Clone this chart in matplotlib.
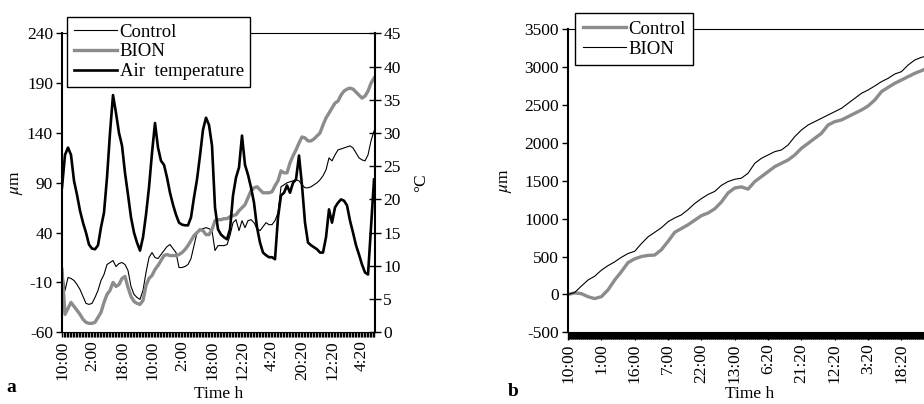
import numpy as np
import matplotlib
matplotlib.use('Agg')
import matplotlib.pyplot as plt
from matplotlib.ticker import MultipleLocator

plt.rcParams['font.family'] = ['Liberation Serif', 'DejaVu Serif']
plt.rcParams['mathtext.fontset'] = 'stix'
plt.rcParams['axes.unicode_minus'] = False

# Panel a: ten samples per labelled step
labels_a = ['10:00', '2:00', '18:00', '10:00', '2:00', '18:00',
            '12:20', '4:20', '20:20', '12:20', '4:20']
control_a = [3, -18, -5, -6, -8, -12, -17, -24, -31, -32,
             -31, -25, -18, -8, -2, 8, 10, 12, 6, 9,
             10, 8, 2, -14, -22, -25, -27, -18, 0, 15,
             20, 15, 14, 18, 22, 26, 28, 24, 20, 5,
             5, 6, 8, 14, 27, 40, 43, 44, 45, 44,
             42, 22, 27, 27, 27, 28, 37, 50, 53, 42,
             52, 45, 52, 53, 50, 44, 42, 46, 50, 48,
             48, 52, 60, 86, 88, 90, 91, 92, 93, 92,
             88, 85, 85, 86, 88, 90, 93, 97, 103, 115,
             112, 118, 123, 124, 125, 126, 127, 125, 120, 115,
             113, 112, 118, 132, 142]
bion_a = [3, -42, -36, -30, -34, -38, -42, -47, -50, -51,
          -51, -50, -45, -40, -30, -22, -18, -10, -14, -12,
          -6, -4, -15, -24, -29, -31, -32, -28, -13, -6,
          -3, 3, 7, 12, 17, 18, 17, 17, 17, 18,
          20, 23, 27, 32, 37, 40, 43, 42, 38, 38,
          43, 52, 53, 53, 54, 54, 56, 57, 58, 62,
          65, 68, 75, 82, 85, 86, 83, 80, 80, 80,
          81, 87, 92, 102, 100, 100, 110, 117, 123, 130,
          136, 135, 132, 132, 134, 137, 140, 148, 155, 160,
          165, 170, 172, 178, 182, 184, 185, 184, 181, 178,
          175, 177, 182, 190, 195]
air_temp = [21.8, 26.7, 27.8, 26.7, 22.8, 20.7, 18.3, 16.5, 15.0, 13.2,
            12.6, 12.5, 13.1, 15.8, 18.0, 23.3, 30.0, 35.7, 33.0, 30.0,
            28.1, 24.0, 20.7, 17.3, 15.0, 13.5, 12.3, 14.3, 17.7, 21.8,
            27.0, 31.5, 27.8, 25.8, 25.2, 23.3, 21.0, 19.2, 17.7, 16.5,
            16.2, 16.1, 16.1, 17.3, 20.3, 23.0, 26.6, 30.5, 32.3, 31.2,
            28.1, 18.8, 15.5, 14.7, 14.3, 14.0, 15.5, 20.6, 23.3, 24.8,
            29.6, 25.2, 23.7, 21.8, 19.5, 15.8, 13.5, 12.0, 11.6, 11.3,
            11.3, 11.0, 17.3, 20.6, 21.0, 22.1, 21.0, 22.5, 23.0, 26.6,
            22.1, 16.5, 13.5, 13.1, 12.8, 12.5, 12.0, 12.0, 14.3, 18.5,
            16.5, 18.8, 19.5, 20.0, 19.8, 19.1, 16.8, 15.0, 13.1, 11.7,
            10.2, 9.0, 8.7, 15.8, 23.0]

# Panel b: five samples per labelled step
labels_b = ['10:00', '1:00', '16:00', '7:00', '22:00', '13:00',
            '6:20', '21:20', '12:20', '3:20', '18:20']
control_b = [0, 20, 10, -30, -55, -30, 60, 190, 300, 420,
             470, 500, 515, 520, 590, 700, 820, 870, 920, 980,
             1040, 1075, 1130, 1220, 1340, 1405, 1420, 1390, 1490, 1555,
             1621, 1687, 1731, 1775, 1841, 1929, 1995, 2061, 2127, 2237,
             2281, 2303, 2347, 2391, 2435, 2488, 2567, 2677, 2734, 2787,
             2831, 2875, 2919, 2954, 2995]
bion_b = [0, 25, 110, 190, 240, 320, 380, 430, 490, 540,
          570, 670, 760, 820, 880, 960, 1010, 1050, 1120, 1200,
          1265, 1320, 1360, 1440, 1490, 1520, 1535, 1600, 1731, 1797,
          1841, 1885, 1907, 1973, 2083, 2171, 2237, 2281, 2325, 2369,
          2413, 2457, 2523, 2589, 2655, 2699, 2752, 2809, 2853, 2910,
          2941, 3029, 3095, 3130, 3150]

GREY = '#8c8c8c'
FS = 12.5
W, H = 924, 404
fig = plt.figure(figsize=(W / 100, H / 100), dpi=100)


def style_bottom(ax, minor, major_len, minor_len, minor_w):
    ax.xaxis.set_minor_locator(MultipleLocator(minor))
    ax.tick_params(axis='x', which='major', direction='out', length=major_len,
                   width=1.0, labelsize=FS, labelrotation=90, pad=2)
    ax.tick_params(axis='x', which='minor', direction='out', length=minor_len,
                   width=minor_w, color='black')


# ---- panel a ----
ax = fig.add_axes([62 / W, 1 - 332.3 / H, 313 / W, 299 / H])
ax2 = ax.twinx()  # made first, so the x tick setup below is not reset
xa = np.arange(len(control_a))
ax.plot(xa, control_a, color='black', lw=0.8, label='Control')
ax.plot(xa, bion_a, color=GREY, lw=2.4, label='BION')
ax.set_ylim(-60, 240)
ax.set_yticks(np.arange(-60, 241, 50))
ax.set_xlim(0, 104.33)
ax.set_xticks(np.arange(0, 101, 10))
ax.set_xticklabels(labels_a)
style_bottom(ax, 0.5, 3.8, 3.8, 1.0)
ax.tick_params(axis='y', direction='out', length=4.5, width=1, labelsize=FS, pad=2)
ax.set_ylabel(r'$\mu$m', fontsize=FS)
ax.yaxis.set_label_coords(-0.118, 0.5)
ax.set_xlabel('Time h', fontsize=FS)
ax.xaxis.set_label_coords(0.5, -0.18)
ax.spines['right'].set_visible(False)
ax.spines['left'].set_linewidth(1.5)
ax.spines['top'].set_linewidth(0.8)

ax2.plot(xa, air_temp, color='black', lw=1.9, label='Air  temperature')
ax2.set_ylim(0, 45)
ax2.set_yticks(np.arange(0, 46, 5))
ax2.tick_params(axis='y', direction='inout', length=8, width=1, labelsize=FS, pad=2)
ax2.set_ylabel('°C', fontsize=FS)
ax2.yaxis.set_label_coords(1.121, 0.5)
for s in ['left', 'top', 'bottom']:
    ax2.spines[s].set_visible(False)
ax2.spines['right'].set_linewidth(1.5)

h1, l1 = ax.get_legend_handles_labels()
h2, l2 = ax2.get_legend_handles_labels()
leg = ax2.legend(h1 + h2, l1 + l2, loc='upper left',
                 bbox_to_anchor=(67 / W, 1 - 17 / H), bbox_transform=fig.transFigure,
                 borderaxespad=0, fancybox=False, edgecolor='black', framealpha=1,
                 fontsize=13.5, handlelength=2.3, handletextpad=0.15,
                 labelspacing=0.14, borderpad=0.35)
leg.get_frame().set_linewidth(1.0)

# ---- panel b ----
bx = fig.add_axes([568 / W, 1 - 332.3 / H, 373.5 / W, 303 / H])
xb = np.arange(len(control_b))
bx.plot(xb, control_b, color=GREY, lw=2.4, label='Control')
bx.plot(xb, bion_b, color='black', lw=0.8, label='BION')
bx.set_ylim(-500, 3500)
bx.set_yticks(np.arange(-500, 3501, 500))
bx.set_xlim(0, 56)
bx.set_xticks(np.arange(0, 51, 5))
bx.set_xticklabels(labels_b)
style_bottom(bx, 0.1, 6, 5, 0.8)
bx.tick_params(axis='y', direction='out', length=4.5, width=1, labelsize=FS, pad=2)
bx.set_ylabel(r'$\mu$m', fontsize=FS)
bx.yaxis.set_label_coords(-0.145, 0.5)
bx.set_xlabel('Time h', fontsize=FS)
bx.xaxis.set_label_coords((750 - 568) / 373.5, -0.177)
bx.spines['right'].set_visible(False)
bx.spines['left'].set_linewidth(1.5)
bx.spines['top'].set_linewidth(0.8)
legb = bx.legend(loc='upper left', bbox_to_anchor=(575 / W, 1 - 13 / H),
                 bbox_transform=fig.transFigure, borderaxespad=0, fancybox=False,
                 edgecolor='black', framealpha=1, fontsize=13.5, handlelength=2.3,
                 handletextpad=0.15, labelspacing=0.15, borderpad=0.4)
legb.get_frame().set_linewidth(1.0)

fig.text(6 / W, 1 - 388 / H, 'a', fontsize=14, fontweight='bold', va='center')
fig.text(508 / W, 1 - 391 / H, 'b', fontsize=14, fontweight='bold', va='center')

fig.savefig('out.png', dpi=100)
